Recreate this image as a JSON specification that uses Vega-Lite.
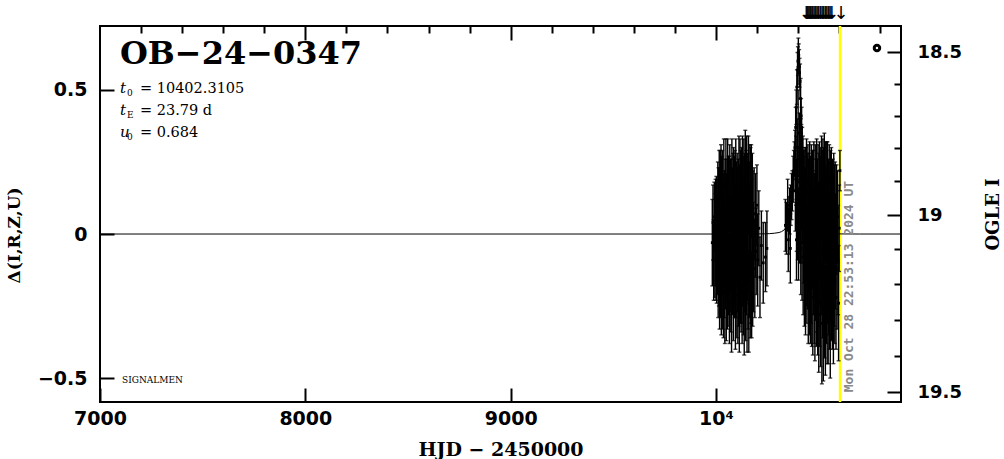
{
"$schema":"https://vega.github.io/schema/vega-lite/v6.json",
"width":801,"height":376,
"autosize":{"type":"none"},
"padding":{"left":100,"top":26,"right":103,"bottom":57},
"background":"white",
"config":{"view":{"stroke":"black","strokeWidth":2},"axis":{"grid":false,"domain":false,"tickColor":"black","tickWidth":2,"labelColor":"black","titleColor":"black"}},
"datasets":{
"lc":[
{"t":9982.0,"d":-0.03,"e":0.15},{"t":9985.5,"d":0.04,"e":0.13},{"t":9988.8,"d":-0.09,"e":0.14},{"t":9992.0,"d":0.06,"e":0.12},{"t":9994.5,"d":-0.05,"e":0.17},
{"t":9996.2,"d":-0.02,"e":0.16},{"t":9998.1,"d":0.05,"e":0.14},{"t":9999.9,"d":-0.08,"e":0.15},{"t":10001.8,"d":0.02,"e":0.18},{"t":10003.4,"d":-0.11,"e":0.13},{"t":10005.2,"d":0.07,"e":0.12},{"t":10007.1,"d":-0.04,"e":0.17},{"t":10008.9,"d":0.10,"e":0.15},{"t":10010.6,"d":-0.13,"e":0.16},{"t":10012.3,"d":0.03,"e":0.20},{"t":10014.0,"d":-0.06,"e":0.19},{"t":10015.8,"d":0.12,"e":0.17},{"t":10017.5,"d":-0.15,"e":0.18},{"t":10019.1,"d":0.01,"e":0.22},{"t":10020.9,"d":0.08,"e":0.21},{"t":10022.6,"d":-0.09,"e":0.20},{"t":10024.4,"d":0.15,"e":0.16},{"t":10026.0,"d":-0.18,"e":0.17},{"t":10027.7,"d":0.04,"e":0.23},{"t":10029.5,"d":-0.02,"e":0.19},{"t":10031.2,"d":0.11,"e":0.18},{"t":10032.8,"d":-0.12,"e":0.21},{"t":10034.6,"d":0.06,"e":0.15},{"t":10036.3,"d":-0.20,"e":0.16},{"t":10038.1,"d":0.14,"e":0.19},{"t":10039.8,"d":-0.05,"e":0.24},{"t":10041.4,"d":0.02,"e":0.20},{"t":10043.2,"d":-0.16,"e":0.22},{"t":10044.9,"d":0.09,"e":0.17},{"t":10046.6,"d":-0.08,"e":0.18},{"t":10048.3,"d":0.17,"e":0.16},{"t":10050.1,"d":-0.22,"e":0.15},{"t":10051.7,"d":0.00,"e":0.21},{"t":10053.4,"d":0.07,"e":0.19},{"t":10055.2,"d":-0.10,"e":0.23},{"t":10056.9,"d":0.13,"e":0.20},{"t":10058.5,"d":-0.14,"e":0.18},{"t":10060.3,"d":0.05,"e":0.22},{"t":10062.0,"d":-0.03,"e":0.25},{"t":10063.7,"d":0.10,"e":0.17},{"t":10065.4,"d":-0.19,"e":0.19},{"t":10067.2,"d":0.16,"e":0.15},{"t":10068.8,"d":-0.07,"e":0.20},{"t":10070.5,"d":0.03,"e":0.23},{"t":10072.3,"d":-0.13,"e":0.21},{"t":10074.0,"d":0.08,"e":0.18},{"t":10075.7,"d":-0.24,"e":0.17},{"t":10077.4,"d":0.12,"e":0.21},{"t":10079.1,"d":-0.01,"e":0.24},{"t":10080.8,"d":-0.09,"e":0.19},{"t":10082.6,"d":0.06,"e":0.22},{"t":10084.3,"d":-0.17,"e":0.20},{"t":10086.0,"d":0.14,"e":0.16},{"t":10087.7,"d":-0.04,"e":0.21},{"t":10089.4,"d":0.01,"e":0.26},{"t":10091.2,"d":-0.11,"e":0.18},{"t":10092.9,"d":0.09,"e":0.20},{"t":10094.6,"d":-0.21,"e":0.19},{"t":10096.3,"d":0.15,"e":0.18},{"t":10098.0,"d":-0.06,"e":0.23},{"t":10099.7,"d":0.04,"e":0.21},{"t":10101.5,"d":-0.14,"e":0.22},{"t":10103.2,"d":0.11,"e":0.17},{"t":10104.9,"d":-0.02,"e":0.25},{"t":10106.6,"d":-0.18,"e":0.20},{"t":10108.3,"d":0.07,"e":0.19},{"t":10110.0,"d":-0.08,"e":0.24},{"t":10111.8,"d":0.13,"e":0.21},{"t":10113.5,"d":-0.25,"e":0.16},{"t":10115.2,"d":0.02,"e":0.22},{"t":10116.9,"d":0.18,"e":0.15},{"t":10118.6,"d":-0.10,"e":0.21},{"t":10120.3,"d":0.05,"e":0.24},{"t":10122.1,"d":-0.15,"e":0.19},{"t":10123.8,"d":0.10,"e":0.20},{"t":10125.5,"d":-0.05,"e":0.26},{"t":10127.2,"d":-0.20,"e":0.18},{"t":10128.9,"d":0.16,"e":0.18},{"t":10130.6,"d":-0.03,"e":0.22},{"t":10132.4,"d":0.08,"e":0.19},{"t":10134.1,"d":-0.12,"e":0.23},{"t":10135.8,"d":0.12,"e":0.21},{"t":10137.5,"d":-0.22,"e":0.20},{"t":10139.2,"d":0.03,"e":0.25},{"t":10140.9,"d":-0.07,"e":0.20},{"t":10142.7,"d":0.20,"e":0.16},{"t":10144.4,"d":-0.16,"e":0.21},{"t":10146.1,"d":0.06,"e":0.23},{"t":10147.8,"d":-0.09,"e":0.19},{"t":10149.5,"d":0.14,"e":0.20},{"t":10151.2,"d":-0.19,"e":0.22},{"t":10153.0,"d":0.01,"e":0.24},{"t":10154.7,"d":0.10,"e":0.18},{"t":10156.4,"d":-0.13,"e":0.20},{"t":10158.1,"d":0.17,"e":0.17},{"t":10159.8,"d":-0.24,"e":0.17},{"t":10161.5,"d":0.04,"e":0.21},{"t":10163.3,"d":-0.06,"e":0.23},{"t":10165.0,"d":0.12,"e":0.19},{"t":10166.7,"d":-0.17,"e":0.19},{"t":10168.4,"d":0.08,"e":0.22},{"t":10170.1,"d":-0.10,"e":0.21},{"t":10171.8,"d":0.15,"e":0.16},{"t":10173.6,"d":-0.21,"e":0.15},{"t":10175.3,"d":-0.01,"e":0.20},{"t":10177.0,"d":0.09,"e":0.19},{"t":10178.7,"d":-0.14,"e":0.18},{"t":10180.4,"d":0.05,"e":0.17},{"t":10182.1,"d":-0.08,"e":0.19},{"t":10185.5,"d":0.07,"e":0.16},{"t":10189.0,"d":-0.12,"e":0.17},{"t":10192.4,"d":0.03,"e":0.18},{"t":10195.8,"d":-0.06,"e":0.15},{"t":10199.3,"d":0.10,"e":0.14},{"t":10203.1,"d":-0.09,"e":0.16},{"t":10208.5,"d":0.02,"e":0.13},{"t":10214.2,"d":-0.15,"e":0.14},{"t":10221.0,"d":-0.04,"e":0.12},{"t":10230.0,"d":-0.10,"e":0.14},{"t":10241.0,"d":-0.08,"e":0.12},{"t":10248.0,"d":-0.05,"e":0.13},
{"t":10338.0,"d":0.03,"e":0.09},{"t":10343.0,"d":0.02,"e":0.09},{"t":10349.0,"d":0.10,"e":0.09},{"t":10352.0,"d":-0.02,"e":0.11},{"t":10355.0,"d":0.03,"e":0.10},{"t":10359.0,"d":0.08,"e":0.08},{"t":10362.0,"d":-0.05,"e":0.12},{"t":10364.0,"d":0.10,"e":0.07},{"t":10368.0,"d":0.13,"e":0.08},{"t":10372.0,"d":0.15,"e":0.07},{"t":10376.0,"d":0.19,"e":0.08},{"t":10379.0,"d":0.22,"e":0.07},{"t":10382.0,"d":0.26,"e":0.06},{"t":10385.0,"d":0.30,"e":0.06},{"t":10388.0,"d":0.37,"e":0.07},{"t":10391.0,"d":0.44,"e":0.06},{"t":10393.0,"d":0.10,"e":0.16},{"t":10394.0,"d":0.51,"e":0.06},{"t":10397.0,"d":0.57,"e":0.06},{"t":10398.0,"d":0.05,"e":0.14},{"t":10399.0,"d":0.60,"e":0.05},{"t":10401.0,"d":0.63,"e":0.05},{"t":10403.0,"d":0.62,"e":0.04},{"t":10404.0,"d":0.12,"e":0.18},{"t":10405.0,"d":0.58,"e":0.06},{"t":10407.0,"d":0.56,"e":0.05},{"t":10409.5,"d":0.53,"e":0.06},{"t":10411.0,"d":0.02,"e":0.12},{"t":10412.0,"d":0.47,"e":0.07},{"t":10414.5,"d":0.41,"e":0.06},{"t":10417.0,"d":0.37,"e":0.07},{"t":10418.5,"d":0.10,"e":0.20},{"t":10420.0,"d":0.29,"e":0.08},{"t":10423.0,"d":0.25,"e":0.09},{"t":10426.0,"d":0.19,"e":0.10},{"t":10429.0,"d":0.17,"e":0.12},{"t":10432.0,"d":0.12,"e":0.11},{"t":10435.0,"d":0.10,"e":0.13},
{"t":10386.5,"d":0.15,"e":0.14},{"t":10389.5,"d":0.22,"e":0.12},{"t":10392.0,"d":-0.02,"e":0.14},{"t":10395.5,"d":0.30,"e":0.10},{"t":10396.0,"d":0.18,"e":0.20},{"t":10400.0,"d":0.35,"e":0.15},{"t":10402.0,"d":0.00,"e":0.16},{"t":10406.0,"d":0.30,"e":0.12},{"t":10408.0,"d":0.08,"e":0.18},{"t":10410.5,"d":0.25,"e":0.15},{"t":10413.0,"d":-0.05,"e":0.16},{"t":10415.5,"d":0.20,"e":0.18},{"t":10419.0,"d":-0.03,"e":0.20},{"t":10421.5,"d":0.15,"e":0.18},{"t":10424.5,"d":-0.08,"e":0.20},{"t":10427.5,"d":0.05,"e":0.22},{"t":10430.5,"d":-0.12,"e":0.20},{"t":10433.5,"d":0.08,"e":0.22},{"t":10436.0,"d":-0.15,"e":0.20},
{"t":10437.5,"d":0.12,"e":0.18},{"t":10439.2,"d":-0.05,"e":0.20},{"t":10440.9,"d":0.18,"e":0.15},{"t":10442.6,"d":-0.12,"e":0.19},{"t":10444.3,"d":0.06,"e":0.22},{"t":10446.0,"d":-0.08,"e":0.18},{"t":10447.7,"d":0.14,"e":0.17},{"t":10449.4,"d":-0.18,"e":0.20},{"t":10451.1,"d":0.03,"e":0.23},{"t":10452.8,"d":0.09,"e":0.19},{"t":10454.5,"d":-0.14,"e":0.21},{"t":10456.2,"d":0.16,"e":0.16},{"t":10457.9,"d":-0.03,"e":0.24},{"t":10459.6,"d":-0.20,"e":0.18},{"t":10461.3,"d":0.07,"e":0.20},{"t":10463.0,"d":-0.09,"e":0.22},{"t":10464.7,"d":0.13,"e":0.18},{"t":10466.4,"d":-0.16,"e":0.23},{"t":10468.1,"d":0.02,"e":0.21},{"t":10469.8,"d":0.10,"e":0.19},{"t":10471.5,"d":-0.22,"e":0.20},{"t":10473.2,"d":0.05,"e":0.24},{"t":10474.9,"d":-0.06,"e":0.22},{"t":10476.6,"d":0.15,"e":0.17},{"t":10478.3,"d":-0.13,"e":0.25},{"t":10480.0,"d":0.00,"e":0.21},{"t":10481.7,"d":-0.25,"e":0.19},{"t":10483.4,"d":0.11,"e":0.20},{"t":10485.1,"d":-0.04,"e":0.26},{"t":10486.8,"d":0.08,"e":0.18},{"t":10488.5,"d":-0.17,"e":0.22},{"t":10490.2,"d":0.17,"e":0.16},{"t":10491.9,"d":-0.10,"e":0.24},{"t":10493.6,"d":0.03,"e":0.23},{"t":10495.3,"d":-0.21,"e":0.21},{"t":10497.0,"d":0.12,"e":0.19},{"t":10498.7,"d":-0.07,"e":0.25},{"t":10500.4,"d":-0.28,"e":0.20},{"t":10502.1,"d":0.06,"e":0.22},{"t":10503.8,"d":0.14,"e":0.18},{"t":10505.5,"d":-0.15,"e":0.24},{"t":10507.2,"d":0.01,"e":0.26},{"t":10508.9,"d":-0.24,"e":0.22},{"t":10510.6,"d":0.10,"e":0.20},{"t":10512.3,"d":-0.05,"e":0.23},{"t":10514.0,"d":0.16,"e":0.18},{"t":10515.7,"d":-0.31,"e":0.21},{"t":10517.4,"d":0.04,"e":0.25},{"t":10519.1,"d":-0.12,"e":0.24},{"t":10520.8,"d":0.13,"e":0.20},{"t":10522.5,"d":-0.26,"e":0.25},{"t":10524.2,"d":0.07,"e":0.23},{"t":10525.9,"d":-0.08,"e":0.27},{"t":10527.6,"d":0.19,"e":0.16},{"t":10529.3,"d":-0.19,"e":0.24},{"t":10531.0,"d":0.02,"e":0.22},{"t":10532.7,"d":-0.30,"e":0.19},{"t":10534.4,"d":0.11,"e":0.21},{"t":10536.1,"d":-0.03,"e":0.26},{"t":10537.8,"d":-0.16,"e":0.22},{"t":10539.5,"d":0.08,"e":0.24},{"t":10541.2,"d":-0.22,"e":0.23},{"t":10542.9,"d":0.15,"e":0.17},{"t":10544.6,"d":-0.06,"e":0.25},{"t":10546.3,"d":-0.27,"e":0.18},{"t":10548.0,"d":0.05,"e":0.21},{"t":10549.7,"d":-0.11,"e":0.24},{"t":10551.4,"d":0.12,"e":0.19},{"t":10553.1,"d":-0.18,"e":0.22},{"t":10554.8,"d":0.00,"e":0.25},{"t":10556.5,"d":-0.24,"e":0.26},{"t":10558.2,"d":0.09,"e":0.20},{"t":10559.9,"d":-0.08,"e":0.22},{"t":10561.6,"d":0.14,"e":0.16},{"t":10563.3,"d":-0.14,"e":0.23},{"t":10565.0,"d":0.03,"e":0.21},{"t":10566.7,"d":-0.20,"e":0.20},{"t":10568.4,"d":0.07,"e":0.19},{"t":10570.1,"d":-0.04,"e":0.24},{"t":10571.8,"d":-0.26,"e":0.19},{"t":10573.5,"d":0.10,"e":0.18},{"t":10575.2,"d":-0.10,"e":0.22},{"t":10576.9,"d":0.04,"e":0.20},{"t":10578.6,"d":-0.17,"e":0.21},{"t":10580.3,"d":0.08,"e":0.17},{"t":10582.0,"d":-0.06,"e":0.20},{"t":10584.5,"d":-0.22,"e":0.18},{"t":10587.0,"d":0.05,"e":0.19},{"t":10589.5,"d":-0.12,"e":0.21},{"t":10592.0,"d":0.06,"e":0.16},{"t":10594.5,"d":-0.09,"e":0.19},{"t":10597.0,"d":-0.24,"e":0.20},{"t":10600.0,"d":0.02,"e":0.15},{"t":10603.5,"d":0.22,"e":0.07}
],
"model":[
{"t":7000,"d":0},{"t":10100,"d":0},{"t":10200,"d":0.0004},{"t":10235.8,"d":0.0007},{"t":10259.6,"d":0.0013},{"t":10283.4,"d":0.0027},{"t":10307.2,"d":0.0052},{"t":10319.0,"d":0.0083},{"t":10330.9,"d":0.0137},{"t":10342.8,"d":0.0241},{"t":10354.7,"d":0.0453},{"t":10360.7,"d":0.064},{"t":10366.6,"d":0.0916},{"t":10372.6,"d":0.134},{"t":10378.5,"d":0.197},{"t":10384.5,"d":0.291},{"t":10390.4,"d":0.420},{"t":10396.4,"d":0.557},{"t":10402.3,"d":0.622},{"t":10408.3,"d":0.557},{"t":10414.2,"d":0.420},{"t":10420.2,"d":0.291},{"t":10426.1,"d":0.197},{"t":10432.1,"d":0.134},{"t":10438.0,"d":0.0916},{"t":10443.9,"d":0.064},{"t":10449.9,"d":0.0453},{"t":10461.8,"d":0.0241},{"t":10473.7,"d":0.0137},{"t":10485.6,"d":0.0083},{"t":10497.5,"d":0.0052},{"t":10521.3,"d":0.0027},{"t":10545.1,"d":0.0013},{"t":10568.9,"d":0.0007},{"t":10600,"d":0.0004},{"t":10700,"d":0},{"t":10901,"d":0}
],
"arrows":[{"t":10440},{"t":10446},{"t":10452},{"t":10458},{"t":10463},{"t":10470},{"t":10478},{"t":10485},{"t":10492},{"t":10500},{"t":10508},{"t":10516},{"t":10524},{"t":10532},{"t":10540},{"t":10548},{"t":10556},{"t":10564},{"t":10609}],
"one":[{"k":1}],
"xa":[{"x":8000,"y":0,"m":19}]
},
"resolve":{"scale":{"x":"independent","y":"independent"}},
"layer":[
{"layer":[
 {"data":{"name":"one"},"mark":{"type":"rule","color":"#ffff00","strokeWidth":2.5},
  "encoding":{"x":{"datum":10604,"type":"quantitative","scale":{"domain":[7000,10901],"nice":false,"zero":false},"axis":null}}},
 {"data":{"name":"model"},"mark":{"type":"line","color":"black","strokeWidth":1},
  "encoding":{
   "x":{"field":"t","type":"quantitative","scale":{"domain":[7000,10901],"nice":false,"zero":false},
    "axis":{"orient":"bottom","values":[7200,7400,7600,7800,8200,8400,8600,8800,9200,9400,9600,9800,10200,10400,10600,10800],"tickSize":-7,"labels":false,"title":null}},
   "y":{"field":"d","type":"quantitative","scale":{"domain":[-0.583,0.722],"nice":false,"zero":false},
    "axis":{"orient":"left","values":[-0.4,-0.3,-0.2,-0.1,0.1,0.2,0.3,0.4,0.6,0.7],"tickSize":-7,"labels":false,"title":null}}}},
 {"data":{"name":"lc"},"mark":{"type":"errorbar","color":"black","thickness":1.4,"ticks":{"size":4,"thickness":1.4}},
  "encoding":{
   "x":{"field":"t","type":"quantitative","scale":{"domain":[7000,10901],"nice":false,"zero":false},"axis":null},
   "y":{"field":"d","type":"quantitative","scale":{"domain":[-0.583,0.722],"nice":false,"zero":false},"axis":null},
   "yError":{"field":"e"}}},
 {"data":{"name":"lc"},"mark":{"type":"square","color":"black","filled":true,"opacity":1,"size":8},
  "encoding":{
   "x":{"field":"t","type":"quantitative","scale":{"domain":[7000,10901],"nice":false,"zero":false},"axis":null},
   "y":{"field":"d","type":"quantitative","scale":{"domain":[-0.583,0.722],"nice":false,"zero":false},"axis":null}}},
 {"data":{"name":"arrows"},"mark":{"type":"text","text":"↓","font":"DejaVu Sans","fontSize":18,"baseline":"middle","align":"center","color":"black"},
  "encoding":{
   "x":{"field":"t","type":"quantitative","scale":{"domain":[7000,10901],"nice":false,"zero":false},"axis":null},
   "y":{"datum":0.765,"type":"quantitative","scale":{"domain":[-0.583,0.722],"nice":false,"zero":false},"axis":null}}},
 {"data":{"name":"one"},"mark":{"type":"text","text":"OB−24−0347","font":"DejaVu Serif","fontWeight":"bold","fontSize":32,"align":"left","baseline":"alphabetic","color":"black"},
  "encoding":{"x":{"datum":7097,"type":"quantitative","axis":null},"y":{"datum":0.59,"type":"quantitative","axis":null}}},
 {"data":{"name":"one"},"mark":{"type":"text","text":["t","t","u"],"lineHeight":22,"font":"DejaVu Serif","fontStyle":"italic","fontSize":15,"align":"left","baseline":"alphabetic","color":"black"},
  "encoding":{"x":{"datum":7097,"type":"quantitative","axis":null},"y":{"datum":0.49,"type":"quantitative","axis":null}}},
 {"data":{"name":"one"},"mark":{"type":"text","text":["0","E","0"],"lineHeight":22,"font":"DejaVu Serif","fontSize":9,"dx":7,"dy":3,"align":"left","baseline":"alphabetic","color":"black"},
  "encoding":{"x":{"datum":7097,"type":"quantitative","axis":null},"y":{"datum":0.49,"type":"quantitative","axis":null}}},
 {"data":{"name":"one"},"mark":{"type":"text","text":["= 10402.3105","= 23.79 d","= 0.684"],"lineHeight":22,"font":"DejaVu Serif","fontSize":14.5,"dx":20,"align":"left","baseline":"alphabetic","color":"black"},
  "encoding":{"x":{"datum":7097,"type":"quantitative","axis":null},"y":{"datum":0.49,"type":"quantitative","axis":null}}},
 {"data":{"name":"one"},"mark":{"type":"text","text":"SIGNALMEN","font":"DejaVu Serif","fontSize":9,"align":"left","baseline":"middle","color":"black"},
  "encoding":{"x":{"datum":7107,"type":"quantitative","axis":null},"y":{"datum":-0.507,"type":"quantitative","axis":null}}},
 {"data":{"name":"one"},"mark":{"type":"text","text":"Mon Oct 28 22:53:13 2024 UT","font":"DejaVu Sans Mono","fontWeight":"bold","fontSize":13,"angle":270,"align":"left","baseline":"middle","color":"#8a8a8a"},
  "encoding":{"x":{"datum":10646,"type":"quantitative","axis":null},"y":{"datum":-0.549,"type":"quantitative","axis":null}}},
 {"data":{"name":"one"},"mark":{"type":"point","shape":"circle","filled":false,"color":"black","strokeWidth":3,"size":30,"opacity":1},
  "encoding":{"x":{"datum":10784,"type":"quantitative","axis":null},"y":{"datum":0.646,"type":"quantitative","axis":null}}}
]},
{"data":{"name":"xa"},"mark":{"type":"point","opacity":0},
 "encoding":{
  "x":{"field":"x","type":"quantitative","scale":{"domain":[7000,10901],"nice":false,"zero":false},
   "axis":{"orient":"bottom","values":[7000,8000,9000,10000],"tickSize":-14,"labelPadding":21,"labelFont":"DejaVu Sans","labelFontWeight":"bold","labelFontSize":19,"labelFlush":false,"labelOverlap":false,"labelBound":false,"format":"d","labelExpr":"datum.value == 10000 ? '10⁴' : datum.label","title":"HJD − 2450000","titleFont":"DejaVu Serif","titleFontWeight":"bold","titleFontSize":19,"titleY":47,"titleBaseline":"middle"}},
  "y":{"field":"y","type":"quantitative","scale":{"domain":[-0.583,0.722],"nice":false,"zero":false},
   "axis":{"orient":"left","values":[-0.5,0,0.5],"tickSize":-14,"labelPadding":27,"labelFont":"DejaVu Sans","labelFontWeight":"bold","labelFontSize":19,"labelOverlap":false,"labelBound":false,"labelExpr":"datum.value == 0 ? '0' : (datum.value < 0 ? '−' + format(-datum.value, '.1f') : format(datum.value, '.1f'))","title":"Δ(I,R,Z,U)","titleFont":"DejaVu Serif","titleFontWeight":"bold","titleFontSize":17,"titleAngle":270,"titleX":-86,"titleY":209,"titleAlign":"center","titleBaseline":"middle"}}}},
{"data":{"name":"xa"},"mark":{"type":"point","opacity":0},
 "encoding":{
  "x":{"field":"x","type":"quantitative","scale":{"domain":[7000,10901],"nice":false,"zero":false},
   "axis":{"orient":"top","values":[7200,7400,7600,7800,8200,8400,8600,8800,9200,9400,9600,9800,10200,10400,10600,10800],"tickSize":-7,"labels":false,"title":null}},
  "y":{"field":"m","type":"quantitative","scale":{"type":"pow","exponent":4.1,"domain":[18.416,19.527],"reverse":true,"nice":false,"zero":false},
   "axis":{"orient":"right","values":[18.6,18.7,18.8,18.9,19.1,19.2,19.3,19.4],"tickSize":-7,"labels":false,"title":null}}}},
{"data":{"name":"xa"},"mark":{"type":"point","opacity":0},
 "encoding":{
  "x":{"field":"x","type":"quantitative","scale":{"domain":[7000,10901],"nice":false,"zero":false},
   "axis":{"orient":"top","values":[8000,9000,10000],"tickSize":-14,"labels":false,"title":null}},
  "y":{"field":"m","type":"quantitative","scale":{"type":"pow","exponent":4.1,"domain":[18.416,19.527],"reverse":true,"nice":false,"zero":false},
   "axis":{"orient":"right","values":[18.5,19,19.5],"tickSize":-14,"labelPadding":30,"labelFont":"DejaVu Sans","labelFontWeight":"bold","labelFontSize":18,"labelOverlap":false,"labelBound":false,"format":".3~g","title":"OGLE I","titleFont":"DejaVu Serif","titleFontWeight":"bold","titleFontSize":18,"titleAngle":270,"titleX":92,"titleY":188,"titleAlign":"center","titleBaseline":"middle"}}}}
]
}
